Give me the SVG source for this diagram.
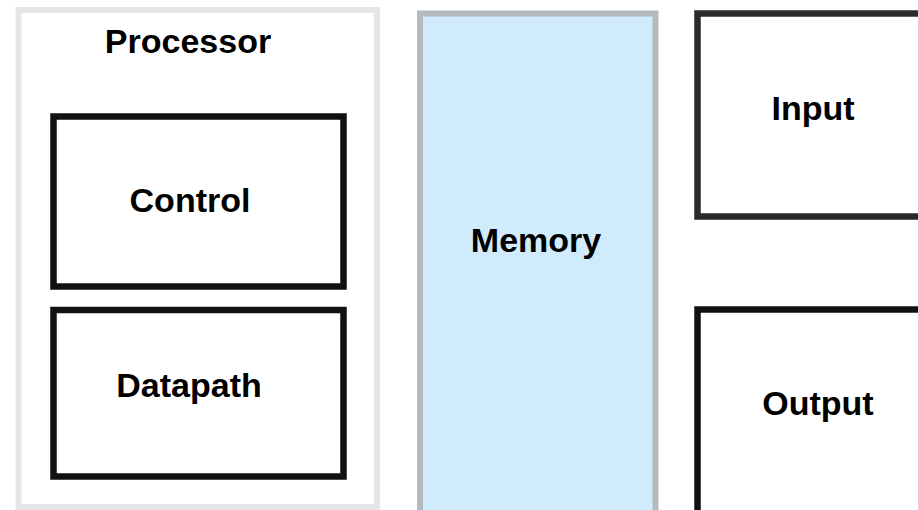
<svg xmlns="http://www.w3.org/2000/svg" width="918" height="510" viewBox="0 0 918 510">
<style>
.lbl{font-family:"Liberation Sans",Arial,sans-serif;font-weight:bold;font-size:34px;fill:#000;text-anchor:middle}
.box{fill:#fff;stroke:#111;stroke-width:6.5}
</style>
<rect width="918" height="510" fill="#fff"/>
<g id="processor">
<rect x="18.5" y="10" width="358.5" height="497" fill="#fff" stroke="#e6e6e6" stroke-width="6"/>
<text class="lbl" x="188" y="53">Processor</text>
</g>
<g id="control">
<rect class="box" x="53.5" y="116.5" width="290" height="170"/>
<text class="lbl" x="190" y="212">Control</text>
</g>
<g id="datapath">
<rect class="box" x="53.5" y="310" width="290" height="166.5"/>
<text class="lbl" x="189" y="397">Datapath</text>
</g>
<g id="memory">
<rect x="420" y="13.5" width="235.5" height="500" fill="#d0ecfc" stroke="#b4b9bd" stroke-width="6"/>
<text class="lbl" x="536" y="252">Memory</text>
</g>
<g id="input">
<rect x="697.5" y="13.5" width="240" height="203" fill="#fff" stroke="#2a2a2a" stroke-width="6.5"/>
<text class="lbl" x="813" y="120">Input</text>
</g>
<g id="output">
<rect class="box" x="697.5" y="309.5" width="240" height="220"/>
<text class="lbl" x="818" y="415">Output</text>
</g>
<g id="connectors"></g>
</svg>
